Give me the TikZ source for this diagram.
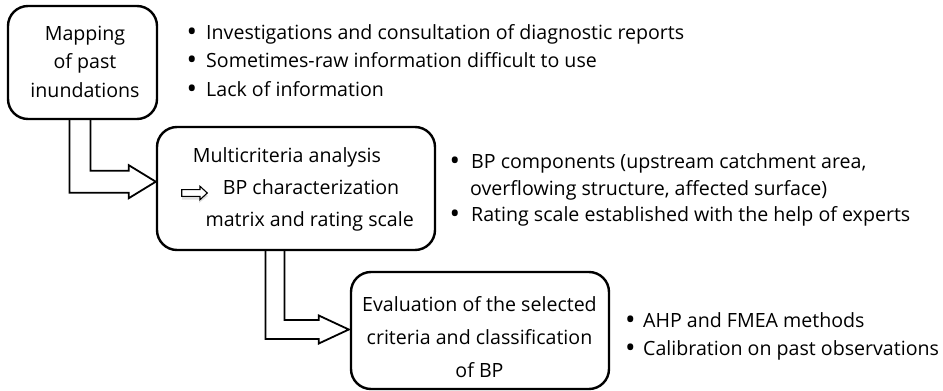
\documentclass[tikz,border=0pt]{standalone}
\usepackage{fontspec}
\setmainfont{Open Sans}
\usetikzlibrary{calc}
\begin{document}
\begin{tikzpicture}[x=1pt,y=-1pt,
  box/.style={draw, line width=2.4pt, rounded corners=20pt, inner sep=0pt},
  blk/.style={draw, line width=1.8pt, line join=miter},
  fnt/.style={font=\fontsize{19.6}{22}\selectfont, inner sep=0pt},
  txt/.style={fnt, anchor=base west},
  ctxt/.style={fnt, anchor=base},
  bul/.style={font=\fontsize{28}{28}\selectfont, inner sep=0pt, anchor=base}]
\useasboundingbox (0,0) rectangle (943,391);
% boxes
\node[box, minimum width=149pt, minimum height=113pt] (b1) at (82.5,62.5) {};
\node[box, minimum width=278pt, minimum height=123pt] (b2) at (296,188.5) {};
\node[box, minimum width=258pt, minimum height=117pt] (b3) at (480,330.5) {};
% box texts
\node[ctxt] (t1a) at (85,40) {Mapping};
\node[ctxt] (t1b) at (85,68.7) {of past};
\node[ctxt] (t1c) at (85,97.3) {inundations};
\node[ctxt] (t2a) at (287,162.7) {Multicriteria analysis};
\node[txt] (t2b) at (222.7,194) {BP characterization};
\node[ctxt] (t2c) at (309.7,226.7) {matrix and rating scale};
\node[ctxt] (t3a) at (479.5,311.7) {Evaluation of the selected};
\node[ctxt] (t3b) at (479.5,344.5) {criteria and classification};
\node[ctxt] (t3c) at (479.5,377) {of BP};
% small arrow symbol with shadow
\fill[gray, opacity=0.25] (182,192.5) -- (199,192.5) -- (199,189) -- (208,196) -- (199,203) -- (199,199.5) -- (182,199.5) -- cycle;
\draw[line width=1.1pt, fill=white] (181.7,189.6) -- (200,189.6) -- (200,186.3) -- (207.3,193) -- (200,199.7) -- (200,196.4) -- (181.7,196.4) -- cycle;
% block arrows
\coordinate (a1s) at ($(b1.south west)+(62.7,0)$);
\coordinate (a1e) at ($(b1.south west)+(83.7,0)$);
\coordinate (a1t) at ($(b2.west)+(0,-6.8)$);
\draw[blk] (a1s) |- ($(a1t)+(-27,11)$) -- ++(0,5.5) -- (a1t) -- ($(a1t)+(-27,-16.5)$) -- ++(0,5.5) -| (a1e);
\coordinate (a2s) at ($(b2.south west)+(109.7,0)$);
\coordinate (a2e) at ($(b2.south west)+(128.7,0)$);
\coordinate (a2t) at ($(b3.west)+(-1,-1)$);
\draw[blk] (a2s) |- ($(a2t)+(-30,9.5)$) -- ++(0,4.5) -- (a2t) -- ($(a2t)+(-30,-14)$) -- ++(0,4.5) -| (a2e);
% bullet lists
\node[bul] (p1) at (192,41.3) {•};
\node[txt] (l1a) at (206,39.3) {Investigations and consultation of diagnostic reports};
\node[bul] (p2) at (192,69.6) {•};
\node[txt] (l1b) at (206,67.6) {Sometimes-raw information difficult to use};
\node[bul] (p3) at (192,98) {•};
\node[txt] (l1c) at (206,96) {Lack of information};
\node[bul] (p4) at (455,170.3) {•};
\node[txt] (l2a) at (471,168.3) {BP components (upstream catchment area,};
\node[bul] (p5) at (455,223.7) {•};
\node[txt] (l2b) at (470,195) {overflowing structure, affected surface)};
\node[txt] (l2c) at (471,221.7) {Rating scale established with the help of experts};
\node[bul] (p6) at (630.5,329.7) {•};
\node[txt] (l3a) at (643,327.7) {AHP and FMEA methods};
\node[bul] (p7) at (630.5,357.5) {•};
\node[txt] (l3b) at (643,355.5) {Calibration on past observations};
\end{tikzpicture}
\end{document}
